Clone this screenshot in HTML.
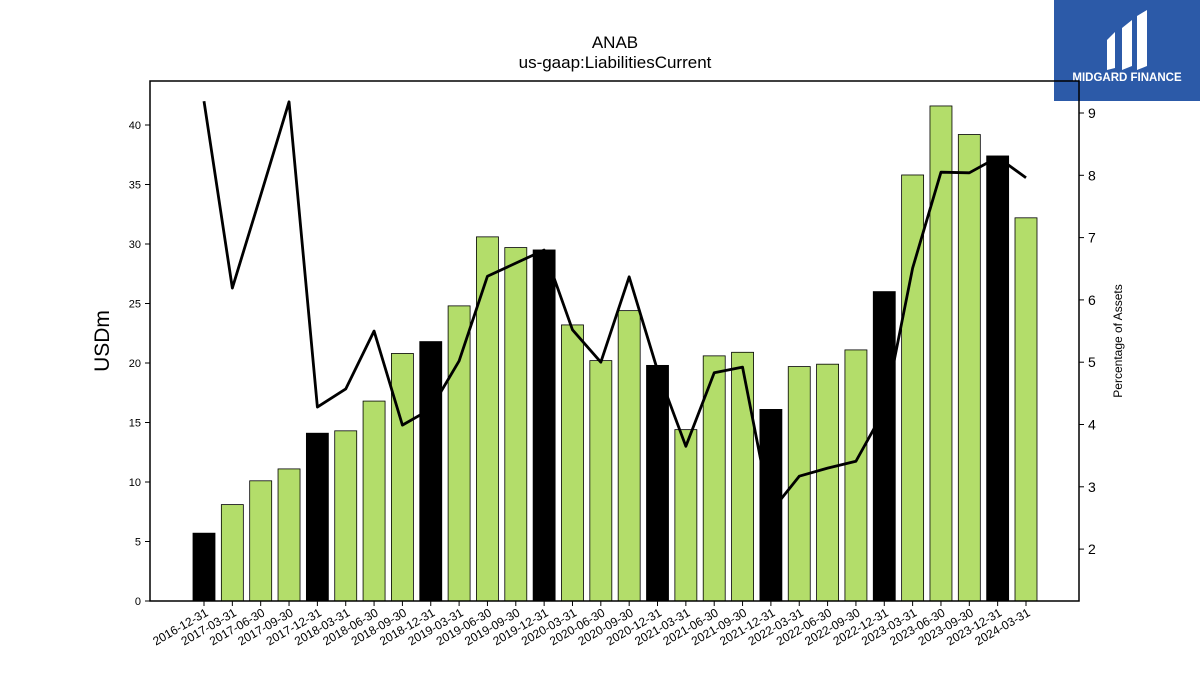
<!DOCTYPE html>
<html><head><meta charset="utf-8"><style>
body{margin:0;background:#fff;font-family:"Liberation Sans",sans-serif}
</style></head><body>
<svg id="c" width="1200" height="675" xmlns="http://www.w3.org/2000/svg" style="font-family:'Liberation Sans',sans-serif">
<text x="615" y="48" text-anchor="middle" font-size="17">ANAB</text>
<text x="615" y="68" text-anchor="middle" font-size="17">us-gaap:LiabilitiesCurrent</text>
<g>
<rect x="1054" y="0" width="146" height="101" fill="#2c5aa8"/>
<path d="M1107 40 L1115 32 L1115 68 L1107 70 Z M1122 28 L1132 20 L1132 66 L1122 70 Z M1137 16 L1147 10 L1147 66 L1137 70 Z" fill="#fff"/>
<text x="1127" y="81" text-anchor="middle" font-size="11.5" font-weight="bold" fill="#fff">MIDGARD FINANCE</text>
</g>
<g id="plot"></g>
<text transform="translate(109,341) rotate(-90)" text-anchor="middle" font-size="21">USDm</text>
<text transform="translate(1122,341) rotate(-90)" text-anchor="middle" font-size="12">Percentage of Assets</text>
</svg>
<script>
const categories=["2016-12-31","2017-03-31","2017-06-30","2017-09-30","2017-12-31","2018-03-31","2018-06-30","2018-09-30","2018-12-31","2019-03-31","2019-06-30","2019-09-30","2019-12-31","2020-03-31","2020-06-30","2020-09-30","2020-12-31","2021-03-31","2021-06-30","2021-09-30","2021-12-31","2022-03-31","2022-06-30","2022-09-30","2022-12-31","2023-03-31","2023-06-30","2023-09-30","2023-12-31","2024-03-31"];
const liabilities=[5.7,8.1,10.1,11.1,14.1,14.3,16.8,20.8,21.8,24.8,30.6,29.7,29.5,23.2,20.2,24.4,19.8,14.4,20.6,20.9,16.1,19.7,19.9,21.1,26.0,35.8,41.6,39.2,37.4,32.2];
const pctAssets=[9.19,6.19,7.68,9.18,4.28,4.57,5.50,3.99,4.25,5.02,6.38,6.59,6.80,5.52,5.00,6.37,4.87,3.65,4.83,4.92,2.60,3.17,3.30,3.41,4.23,6.51,8.05,8.04,8.29,7.96];
const leftTicks=[0,5,10,15,20,25,30,35,40];
const rightTicks=[2,3,4,5,6,7,8,9];
const NS="http://www.w3.org/2000/svg";
const g=document.getElementById('plot');
const L=150,R=1079,T=81,B=601;
const x=i=>204+i*(1026-204)/29;
const yL=v=>601-v*11.9;
const yR=v=>113+(9-v)*62.3;
function mk(t,a){const e=document.createElementNS(NS,t);for(const k in a)e.setAttribute(k,a[k]);g.appendChild(e);return e;}
liabilities.forEach((v,i)=>{
 const r=mk('rect',{x:x(i)-11,y:yL(v),width:22,height:B-yL(v),fill:categories[i].endsWith('12-31')?'#000':'#b3dd6a',stroke:'#000','stroke-width':0.8});
 
 
});
const p=mk('polyline',{points:pctAssets.map((v,i)=>x(i)+','+yR(v)).join(' '),fill:'none',stroke:'#000','stroke-width':2.8,'stroke-linejoin':'round'});


const f=mk('rect',{x:L,y:T,width:R-L,height:B-T,fill:'none',stroke:'#000','stroke-width':1.5});


leftTicks.forEach(v=>{
 mk('line',{x1:L-5,x2:L,y1:yL(v),y2:yL(v),stroke:'#000'});
 const t=mk('text',{x:L-9,y:yL(v)+4,'text-anchor':'end','font-size':11});t.textContent=v;
 
 
});
rightTicks.forEach(v=>{
 mk('line',{x1:R,x2:R+5,y1:yR(v),y2:yR(v),stroke:'#000'});
 const t=mk('text',{x:R+9,y:yR(v)+5,'font-size':14});t.textContent=v;
 
 
});
categories.forEach((c,i)=>{
 mk('line',{x1:x(i),x2:x(i),y1:B,y2:B+5,stroke:'#000'});
 const t=mk('text',{transform:`translate(${x(i)+5},${B+14}) rotate(-30)`,'text-anchor':'end','font-size':12});t.textContent=c;
 
 
});
</script>
</body></html>
